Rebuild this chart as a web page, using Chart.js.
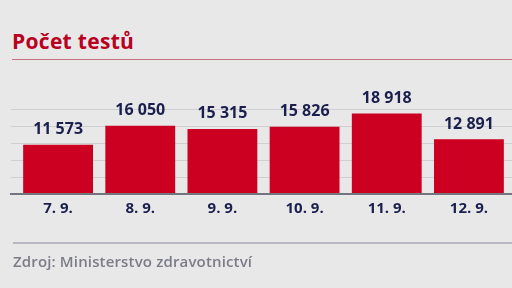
<!DOCTYPE html>
<html>
<head>
<meta charset="utf-8">
<script src="https://cdn.jsdelivr.net/npm/chart.js@4.4.1/dist/chart.umd.min.js"></script>
<style>
  body { margin: 0; width: 512px; height: 288px; background: #e8e8e8; overflow: hidden; position: relative; font-family: "Open Sans", sans-serif; }
  #title { position: absolute; left: 12px; top: 27px; font-weight: 700; font-size: 21px; color: #b8001f; letter-spacing: 0.3px; }
  #rule { position: absolute; left: 12px; right: 0; top: 59px; height: 1px; background: #c9707d; }
  #wrap { position: absolute; left: 0; top: 0; width: 512px; height: 288px; }
  #foot { position: absolute; left: 13px; right: 0; top: 242px; height: 2px; background: #b8b8c0; }
  #src { position: absolute; left: 13px; top: 251px; font-size: 15px; font-weight: 600; color: #7c7c88; letter-spacing: 0.15px; }
</style>
</head>
<body>
<div id="title">Počet testů</div>
<div id="rule"></div>
<div id="wrap"><canvas id="testsChart"></canvas></div>
<div id="foot"></div>
<div id="src">Zdroj: Ministerstvo zdravotnictví</div>
<script>
// daily test counts
const days = ['7. 9.', '8. 9.', '9. 9.', '10. 9.', '11. 9.', '12. 9.'];
const tests = [11573, 16050, 15315, 15826, 18918, 12891];
const yTicks = [0, 4000, 8000, 12000, 16000, 20000];

const NAVY = '#1b1f4e';

function fmt(n) {
    return String(n).replace(/\B(?=(\d{3})+(?!\d))/g, ' ');
}

// gridlines run a bit past the plot area on both sides
const gridPlugin = {
    id: 'grid',
    beforeDatasetsDraw(chart) {
        const { ctx, scales: { y } } = chart;
        ctx.save();
        ctx.strokeStyle = '#cfcfd2';
        ctx.lineWidth = 1;
        yTicks.forEach(v => {
            if (v === 0) return;
            const py = Math.round(y.getPixelForValue(v)) + 0.5;
            ctx.beginPath();
            ctx.moveTo(11, py);
            ctx.lineTo(512, py);
            ctx.stroke();
        });
        ctx.restore();
    },
    afterDatasetsDraw(chart) {
        const { ctx, scales: { y } } = chart;
        const meta = chart.getDatasetMeta(0);
        ctx.save();
        // baseline
        const y0 = y.getPixelForValue(0);
        ctx.strokeStyle = '#74747e';
        ctx.lineWidth = 2;
        ctx.beginPath();
        ctx.moveTo(10, y0);
        ctx.lineTo(512, y0);
        ctx.stroke();
        // value labels
        ctx.fillStyle = NAVY;
        ctx.font = 'bold 16px "Open Sans"';
        ctx.textAlign = 'center';
        ctx.textBaseline = 'middle';
        meta.data.forEach((bar, i) => {
            ctx.fillText(fmt(tests[i]), bar.x, bar.y - 15);
        });
        ctx.restore();
    }
};

new Chart(document.getElementById('testsChart'), {
    type: 'bar',
    data: {
        labels: days,
        datasets: [{
            data: tests,
            backgroundColor: '#cc0020',
            barPercentage: 0.85,
            categoryPercentage: 1
        }]
    },
    options: {
        responsive: true,
        maintainAspectRatio: false,
        animation: false,
        layout: { padding: { top: 109, left: 17, right: 2, bottom: 64 } },
        plugins: {
            legend: { display: false },
            tooltip: { enabled: false }
        },
        scales: {
            x: {
                grid: { display: false, drawTicks: false },
                border: { display: false },
                ticks: {
                    color: NAVY,
                    padding: 6,
                    maxRotation: 0,
                    font: { family: 'Open Sans', size: 15, weight: 'bold' }
                }
            },
            y: {
                display: false,
                min: 0,
                max: 20000
            }
        }
    },
    plugins: [gridPlugin]
});
</script>
</body>
</html>
